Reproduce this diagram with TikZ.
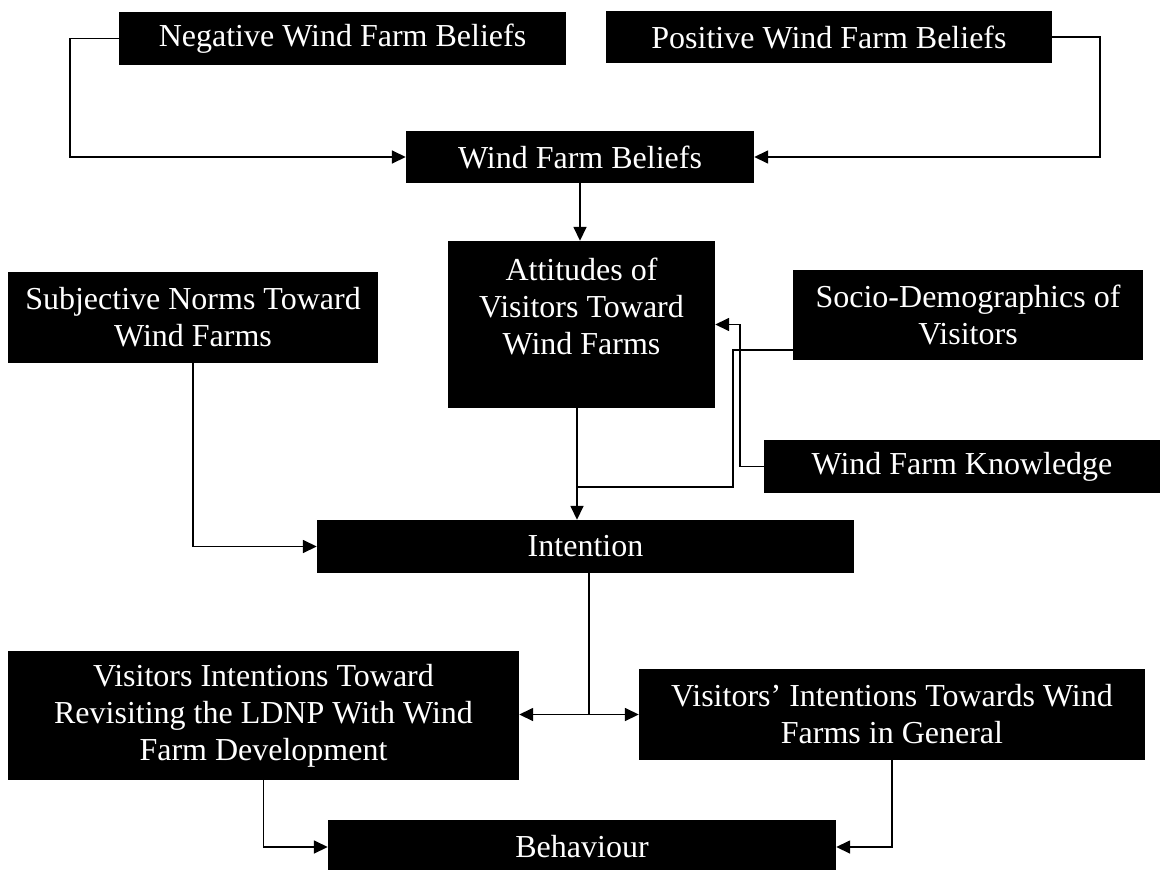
\documentclass[tikz,border=0pt]{standalone}
\usepackage{fontspec}
\setmainfont{Liberation Serif}
\usetikzlibrary{arrows.meta,calc}
\begin{document}
\begin{tikzpicture}[x=1pt,y=-1pt,
  box/.style={fill=black,text=white,align=center,inner sep=0pt,
    font=\fontsize{32}{37}\selectfont},
  conn/.style={line width=1.6pt,draw=black},
  arr/.style={conn,-{Triangle[length=14pt,width=13pt]}}]
\useasboundingbox (0,0) rectangle (1162,870);
\fill[white] (0,0) rectangle (1162,870);
% boxes
\node[box,minimum width=447,minimum height=53] (neg) at (342.5,38.5) {Negative Wind Farm Beliefs};
\node[box,minimum width=446,minimum height=52] (pos) at (829,37) {Positive Wind Farm Beliefs};
\node[box,minimum width=348,minimum height=52] (wfb) at (580,157) {Wind Farm Beliefs};
\node[box,minimum width=267,minimum height=167] (att) at (581.5,324.5) {Attitudes of\\Visitors Toward\\Wind Farms\\~};
\node[box,minimum width=370,minimum height=91] (subj) at (193,317.5) {Subjective Norms Toward\\Wind Farms};
\node[box,minimum width=350,minimum height=90] (socio) at (968,315) {Socio-Demographics of\\Visitors};
\node[box,minimum width=396,minimum height=53] (wfk) at (962,466.5) {Wind Farm Knowledge};
\node[box,minimum width=537,minimum height=53] (int) at (585.5,546.5) {Intention};
\node[box,minimum width=511,minimum height=129] (ldnp) at (263.5,715.5) {Visitors Intentions Toward\\Revisiting the LDNP With Wind\\Farm Development};
\node[box,minimum width=506,minimum height=91] (vig) at (892,714.5) {Visitors’ Intentions Towards Wind\\Farms in General};
\node[box,minimum width=508,minimum height=54] (beh) at (582,847) {Behaviour};
% junction coordinates
\coordinate (j1) at (577,487);
\coordinate (sj) at (733,350);
\coordinate (kj) at (740,324.5);
\coordinate (ij) at (589,714.5);
% connectors
\draw[arr] (neg.west) -- ++(-49,0) |- (wfb.west);
\draw[arr] (pos.east) -- ++(48,0) |- (wfb.east);
\draw[arr] (wfb.south) -- (wfb.south |- att.north);
\draw[arr] (j1 |- att.south) -- (j1 |- int.north);
\draw[conn] (sj -| socio.west) -- (sj) |- (j1);
\draw[arr] (wfk.west) -| (kj) -- (att.east);
\draw[arr] (subj.south) |- (int.west);
\draw[conn] (ij |- int.south) -- (ij);
\draw[arr] (ij) -- (ldnp.east |- ij);
\draw[arr] (ij) -- (vig.west |- ij);
\draw[arr] (ldnp.south) |- (beh.west);
\draw[arr] (vig.south) |- (beh.east);
\end{tikzpicture}
\end{document}
